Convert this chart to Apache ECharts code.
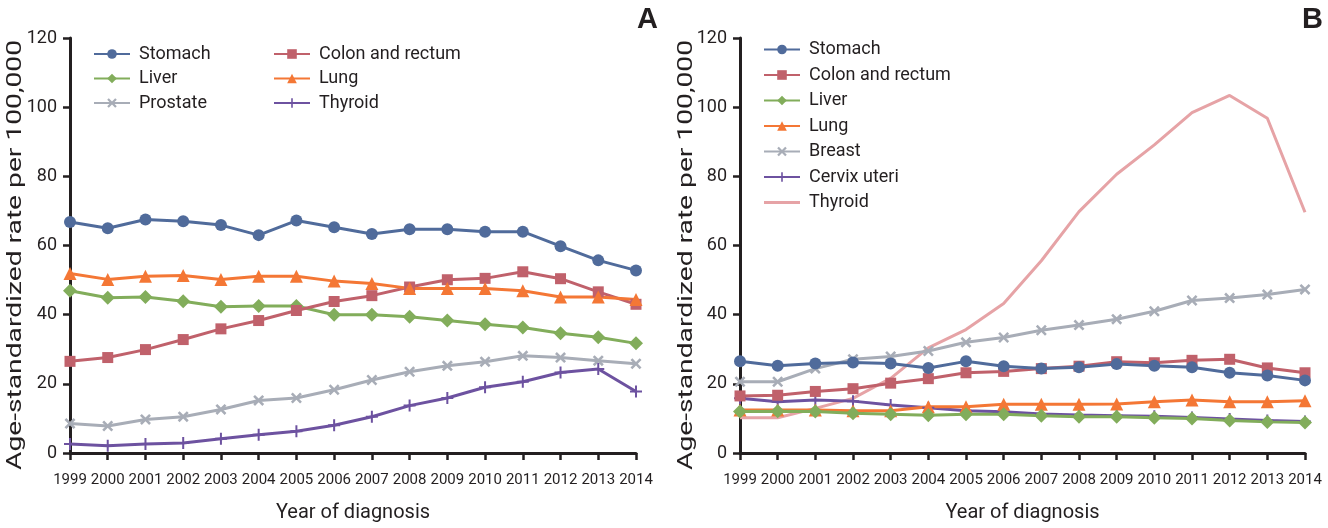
<!DOCTYPE html>
<html>
<head>
<meta charset="utf-8">
<script src="https://cdn.jsdelivr.net/npm/echarts@6/dist/echarts.min.js"></script>
<style>html,body{margin:0;padding:0;background:#fff;}#c{width:1328px;height:528px;}</style>
</head>
<body>
<div id="c"></div>
<script>
const years = ['1999','2000','2001','2002','2003','2004','2005','2006','2007','2008','2009','2010','2011','2012','2013','2014'];
const yTicks = [0, 20, 40, 60, 80, 100, 120];
const yTitle = 'Age-standardized rate per 100,000';
const xTitle = 'Year of diagnosis';

// Panel A
const aStomach  = [66.8,65.0,67.5,67.0,65.9,63.0,67.2,65.3,63.3,64.7,64.7,64.0,64.0,59.8,55.7,52.8];
const aColon    = [26.5,27.6,29.9,32.8,35.9,38.3,41.2,43.8,45.5,48.0,50.1,50.5,52.4,50.4,46.6,43.0];
const aLiver    = [46.9,44.9,45.1,43.9,42.3,42.5,42.5,40.0,40.0,39.4,38.3,37.2,36.3,34.6,33.5,31.7];
const aLung     = [51.9,50.2,51.1,51.3,50.2,51.1,51.1,49.7,49.0,47.6,47.6,47.6,46.9,45.1,45.1,44.4];
const aProstate = [8.5,7.8,9.7,10.5,12.6,15.2,15.9,18.3,21.1,23.5,25.2,26.4,28.1,27.6,26.7,25.8];
const aThyroid  = [2.6,2.1,2.6,2.9,4.1,5.3,6.3,8.0,10.5,13.7,15.9,19.0,20.6,23.3,24.3,17.8];

// Panel B
const bStomach  = [26.5,25.2,25.9,26.2,25.9,24.6,26.5,25.1,24.4,24.8,25.7,25.2,24.8,23.2,22.4,21.0];
const bColon    = [16.5,16.7,17.8,18.6,20.2,21.5,23.2,23.6,24.4,25.1,26.4,26.1,26.8,27.1,24.6,23.2];
const bLiver    = [12.0,12.1,12.0,11.5,11.2,10.9,11.2,11.2,10.8,10.5,10.5,10.2,10.0,9.4,9.0,8.8];
const bLung     = [12.4,12.4,12.4,12.2,12.2,13.4,13.4,14.1,14.1,14.1,14.2,14.8,15.3,14.8,14.8,15.1];
const bBreast   = [20.6,20.6,24.4,27.1,27.9,29.5,32.0,33.4,35.5,37.0,38.7,41.0,44.1,44.8,45.8,47.3];
const bCervix   = [15.8,14.8,15.3,15.0,13.9,13.1,12.2,11.9,11.3,11.0,10.8,10.6,10.3,9.8,9.4,9.1];
const bThyroid  = [10.2,10.2,12.9,15.8,21.6,30.4,35.7,43.2,55.6,69.8,80.6,89.1,98.4,103.4,96.8,69.6];

const FONT = "Roboto,'Liberation Sans',sans-serif";
const INK = '#231f20';
const C = {
  stomach:'#506b9b', colon:'#c0616b', liver:'#82ad5b', lung:'#f47735',
  grey:'#a8adb7', purple:'#6d52a0', pink:'#e6a3a6'
};
const XSYM = 'path://M0,2 L2,0 L6,4 L10,0 L12,2 L8,6 L12,10 L10,12 L6,8 L2,12 L0,10 L4,6 Z';
const PSYM = 'path://M5,0 L7,0 L7,5 L12,5 L12,7 L7,7 L7,12 L5,12 L5,7 L0,7 L0,5 L5,5 Z';
const LINEICON = 'path://M0,0 L36,0 L36,3 L0,3 Z';

// stretch the rotated y title along its length, as in the reference
const TITLE_FS = 21;
const mctx = document.createElement('canvas').getContext('2d');
mctx.font = TITLE_FS + 'px ' + FONT;
const yTitleScale = 430 / mctx.measureText(yTitle).width;

function mk(name, data, color, symbol, size, idx) {
  return {
    name, type:'line', data, xAxisIndex:idx, yAxisIndex:idx,
    symbol, symbolSize:size, showSymbol: symbol !== 'none',
    lineStyle:{color, width:3}, itemStyle:{color},
    animation:false
  };
}
function xAx(idx) {
  return {
    gridIndex:idx, type:'category', data:years, boundaryGap:false,
    name:xTitle, nameLocation:'middle', nameGap:50,
    nameTextStyle:{fontFamily:FONT, fontSize:20, color:INK},
    axisLine:{lineStyle:{color:INK, width:3}},
    axisTick:{length:7, lineStyle:{color:INK, width:2.5}},
    axisLabel:{fontFamily:FONT, fontSize:15, color:INK, margin:20, interval:0},
    splitLine:{show:false}
  };
}
function yAx(idx) {
  return {
    gridIndex:idx, type:'value', min:0, max:120, interval:20,
    axisLine:{show:true, lineStyle:{color:INK, width:3}},
    axisTick:{show:true, length:7, lineStyle:{color:INK, width:2.5}},
    axisLabel:{fontFamily:FONT, fontSize:18, color:INK, margin:13,
      formatter: v => yTicks.includes(v) ? String(v) : ''},
    splitLine:{show:false}
  };
}
function leg(data, left, top, gap) {
  return {
    data, left, top, orient:'vertical', padding:0,
    itemWidth:36, itemHeight:12, itemGap:gap,
    textStyle:{fontFamily:FONT, fontSize:18, color:INK, lineHeight:21, padding:[0,0,0,4]},
    selectedMode:false
  };
}
function yTitleGraphic(cx) {
  return {
    type:'text', x:cx, y:255, rotation:Math.PI/2, scaleX:yTitleScale, scaleY:1,
    silent:true,
    style:{text:yTitle, fontFamily:FONT, fontSize:TITLE_FS, fill:INK, align:'center', verticalAlign:'middle'}
  };
}

const option = {
  backgroundColor:'#fff',
  animation:false,
  title:[
    {text:'A', left:632, top:0, textStyle:{fontFamily:"'Liberation Sans','DejaVu Sans',sans-serif", fontWeight:'bold', fontSize:29, color:INK}},
    {text:'B', left:1297, top:0, textStyle:{fontFamily:"'Liberation Sans','DejaVu Sans',sans-serif", fontWeight:'bold', fontSize:29, color:INK}}
  ],
  legend:[
    leg(['Stomach','Liver','Prostate'], 93, 43.5, 3.5),
    leg(['Colon and rectum','Lung','Thyroid'], 273, 43.5, 3.5),
    leg(['Stomach','Colon and rectum','Liver','Lung','Breast','Cervix uteri',
         {name:'Thyroid ', icon:LINEICON}], 763, 39, 4.5)
  ],
  graphic:[yTitleGraphic(16), yTitleGraphic(687)],
  grid:[
    {left:70, right:692, top:38, bottom:73},
    {left:740, right:23, top:38, bottom:73}
  ],
  xAxis:[xAx(0), xAx(1)],
  yAxis:[yAx(0), yAx(1)],
  series:[
    mk('Prostate', aProstate, C.grey, XSYM, 11, 0),
    mk('Thyroid', aThyroid, C.purple, PSYM, 12, 0),
    mk('Liver', aLiver, C.liver, 'diamond', 14, 0),
    mk('Colon and rectum', aColon, C.colon, 'rect', 11, 0),
    mk('Lung', aLung, C.lung, 'triangle', 13, 0),
    mk('Stomach', aStomach, C.stomach, 'circle', 12, 0),

    mk('Thyroid ', bThyroid, C.pink, 'none', 0, 1),
    mk('Breast', bBreast, C.grey, XSYM, 11, 1),
    mk('Cervix uteri', bCervix, C.purple, PSYM, 12, 1),
    mk('Colon and rectum', bColon, C.colon, 'rect', 11, 1),
    mk('Stomach', bStomach, C.stomach, 'circle', 12, 1),
    mk('Lung', bLung, C.lung, 'triangle', 13, 1),
    mk('Liver', bLiver, C.liver, 'diamond', 14, 1)
  ]
};
const chart = echarts.init(document.getElementById('c'), null, {renderer:'canvas'});
chart.setOption(option);
</script>
</body>
</html>
